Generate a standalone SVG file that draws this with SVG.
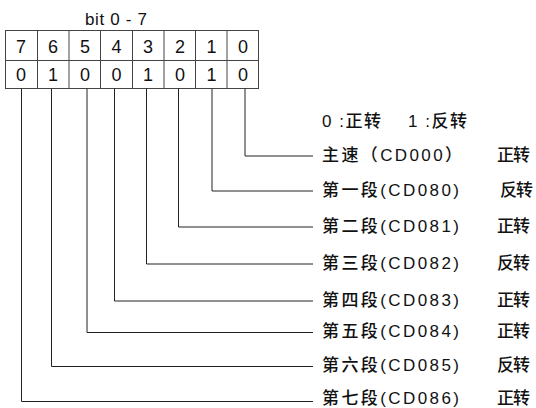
<svg xmlns="http://www.w3.org/2000/svg" width="536" height="408" viewBox="0 0 536 408">
<style>
text{font-family:"Liberation Sans","Noto Sans CJK SC",sans-serif;fill:#111;}
.t{font-size:17px;font-weight:500;}
.d{font-size:18px;text-anchor:middle;}
.grid{fill:none;stroke:#444;stroke-width:1;}
.c{fill:none;stroke:#222;stroke-width:1;}
</style>
<rect width="536" height="408" fill="#fff"/>
<g id="title"><text class="t" x="85" y="25" textLength="62" lengthAdjust="spacing">bit 0 - 7</text></g>
<g id="table">
<rect class="grid" x="5.5" y="30.5" width="253" height="58"/>
<path class="grid" d="M5.5 60.5H258.5M37.5 30.5V88.5M69 30.5V88.5M100.5 30.5V88.5M132.5 30.5V88.5M164 30.5V88.5M195.5 30.5V88.5M227 30.5V88.5"/>
<text class="d" x="21" y="52.5">7</text><text class="d" x="53" y="52.5">6</text><text class="d" x="85" y="52.5">5</text><text class="d" x="116.5" y="52.5">4</text><text class="d" x="148" y="52.5">3</text><text class="d" x="180" y="52.5">2</text><text class="d" x="211.5" y="52.5">1</text><text class="d" x="243" y="52.5">0</text>
<text class="d" x="21" y="81">0</text><text class="d" x="53" y="81">1</text><text class="d" x="85" y="81">0</text><text class="d" x="116.5" y="81">0</text><text class="d" x="148" y="81">1</text><text class="d" x="180" y="81">0</text><text class="d" x="211.5" y="81">1</text><text class="d" x="243" y="81">0</text>
</g>
<g id="connectors">
<path class="c" d="M245 88.5V156H313"/>
<path class="c" d="M212 88.5V191H313"/>
<path class="c" d="M178.5 88.5V227H313"/>
<path class="c" d="M146.5 88.5V264H313"/>
<path class="c" d="M114.5 88.5V301H313"/>
<path class="c" d="M87 88.5V332.5H313"/>
<path class="c" d="M51.5 88.5V366.5H313"/>
<path class="c" d="M21.5 88.5V401.5H313"/>
</g>
<g id="legend">
<text class="t" x="322" y="126.5" textLength="59" lengthAdjust="spacing">0 :正转</text>
<text class="t" x="408" y="126.5" textLength="59" lengthAdjust="spacing">1 :反转</text>
</g>
<g id="row0"><text class="t" x="322" y="161" textLength="140" lengthAdjust="spacing">主速（CD000）</text><text class="t" x="497" y="161" textLength="33" lengthAdjust="spacing">正转</text></g>
<g id="row1"><text class="t" x="322" y="196" textLength="137" lengthAdjust="spacing">第一段(CD080)</text><text class="t" x="500" y="196" textLength="33" lengthAdjust="spacing">反转</text></g>
<g id="row2"><text class="t" x="322" y="232" textLength="137" lengthAdjust="spacing">第二段(CD081)</text><text class="t" x="497" y="232" textLength="33" lengthAdjust="spacing">正转</text></g>
<g id="row3"><text class="t" x="322" y="269" textLength="137" lengthAdjust="spacing">第三段(CD082)</text><text class="t" x="497" y="269" textLength="33" lengthAdjust="spacing">反转</text></g>
<g id="row4"><text class="t" x="322" y="305.5" textLength="137" lengthAdjust="spacing">第四段(CD083)</text><text class="t" x="497" y="305.5" textLength="33" lengthAdjust="spacing">正转</text></g>
<g id="row5"><text class="t" x="322" y="337" textLength="137" lengthAdjust="spacing">第五段(CD084)</text><text class="t" x="497" y="337" textLength="33" lengthAdjust="spacing">正转</text></g>
<g id="row6"><text class="t" x="322" y="371" textLength="137" lengthAdjust="spacing">第六段(CD085)</text><text class="t" x="497" y="371" textLength="33" lengthAdjust="spacing">反转</text></g>
<g id="row7"><text class="t" x="322" y="404" textLength="137" lengthAdjust="spacing">第七段(CD086)</text><text class="t" x="497" y="404" textLength="33" lengthAdjust="spacing">正转</text></g>
</svg>
